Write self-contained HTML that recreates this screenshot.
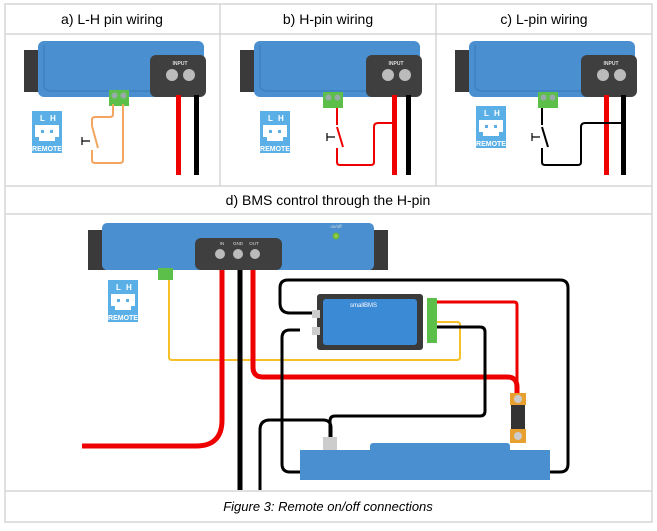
<!DOCTYPE html>
<html><head><meta charset="utf-8"><style>
html,body{margin:0;padding:0;background:#fff}
svg{display:block}
text{font-family:"Liberation Sans",Arial,sans-serif}
</style></head><body>
<svg width="657" height="531" viewBox="0 0 657 531" xmlns="http://www.w3.org/2000/svg">
<defs>
<g id="remote">
<rect x="0" y="0" width="30" height="42" fill="#5ab0e6"/>
<text x="8" y="10" font-size="8" font-weight="bold" fill="#fff">L</text>
<text x="18" y="10" font-size="8" font-weight="bold" fill="#fff">H</text>
<path d="M3 14 h24 v12 h-4 v4 h-16 v-4 h-4z" fill="#fff"/>
<rect x="9" y="19" width="3" height="3" fill="#5ab0e6"/><rect x="18" y="19" width="3" height="3" fill="#5ab0e6"/>
<text x="15" y="40" font-size="7" font-weight="bold" fill="#fff" text-anchor="middle">REMOTE</text>
</g>
<g id="conn">
<rect x="0" y="0" width="20" height="16" fill="#5cbf4a"/>
<circle cx="5.5" cy="5.5" r="3" fill="#9aa"/><circle cx="14.5" cy="5.5" r="3" fill="#9aa"/>
</g>
<g id="top">
<rect x="0" y="9" width="20" height="42" fill="#3a3a3a"/>
<rect x="14" y="0" width="166" height="56" rx="6" fill="#4a90d0"/>
<path d="M20 4 v40 q0 6 8 6 h100" stroke="#3d80c0" fill="none" stroke-width="1.5"/>
<rect x="126" y="14" width="56" height="42" rx="6" fill="#3f3f3f"/>
<text x="156" y="24" font-size="5" fill="#ddd" text-anchor="middle" font-weight="bold">INPUT</text>
<circle cx="148" cy="34" r="6" fill="#bbb"/><circle cx="165" cy="34" r="6" fill="#bbb"/>
</g>
</defs>
<!-- table grid -->
<g stroke="#d6d6d6" stroke-width="1.5" fill="none">
<rect x="5" y="4" width="647" height="518"/>
<line x1="5" y1="34" x2="652" y2="34"/>
<line x1="5" y1="186" x2="652" y2="186"/>
<line x1="5" y1="214" x2="652" y2="214"/>
<line x1="5" y1="491" x2="652" y2="491"/>
<line x1="220" y1="4" x2="220" y2="186"/>
<line x1="436" y1="4" x2="436" y2="186"/>
</g>
<text x="112" y="24" font-size="14" text-anchor="middle">a) L-H pin wiring</text>
<text x="328" y="24" font-size="14" text-anchor="middle">b) H-pin wiring</text>
<text x="544" y="24" font-size="14" text-anchor="middle">c) L-pin wiring</text>
<text x="328" y="205" font-size="14" text-anchor="middle">d) BMS control through the H-pin</text>
<text x="328" y="511" font-size="13" font-style="italic" text-anchor="middle">Figure 3: Remote on/off connections</text>

<!-- panel a -->
<use href="#top" x="24" y="41"/>
<rect x="176" y="95" width="5" height="80" fill="#e00"/><rect x="194" y="95" width="5" height="80" fill="#000"/>
<use href="#conn" x="109" y="90"/>
<use href="#remote" x="32" y="111"/>
<path d="M113 104 v10 q0 3 -3 3 h-15 q-3 0 -3 3 v6 M92 126 l6 22 M92 150 v10 q0 3 3 3 h25 q3 0 3 -3 v-56" stroke="#f4a560" stroke-width="2" fill="none"/>
<path d="M82 141 h8 M82 137 v8" stroke="#000" stroke-width="1.2"/>

<!-- panel b -->
<use href="#top" x="240" y="41"/>
<rect x="392" y="95" width="5" height="80" fill="#e00"/><rect x="406" y="95" width="5" height="80" fill="#000"/>
<use href="#conn" x="323" y="92"/>
<use href="#remote" x="260" y="111"/>
<path d="M337 108 v17 M337 127 l6 20 M337 148 v14 q0 3 3 3 h31 q3 0 3 -3 v-35 q0 -4 4 -4 h15" stroke="#e00" stroke-width="2" fill="none"/>
<path d="M327 137 h8 M327 133 v8" stroke="#000" stroke-width="1.2"/>

<!-- panel c -->
<use href="#top" x="455" y="41"/>
<rect x="604" y="95" width="5" height="80" fill="#e00"/><rect x="621" y="95" width="5" height="80" fill="#000"/>
<use href="#conn" x="538" y="92"/>
<use href="#remote" x="476" y="106"/>
<path d="M542 108 v17 M542 127 l6 20 M542 148 v14 q0 3 3 3 h33 q3 0 3 -3 v-35 q0 -4 4 -4 h39" stroke="#000" stroke-width="2" fill="none"/>
<path d="M532 137 h8 M532 133 v8" stroke="#000" stroke-width="1.2"/>

<!-- panel d -->
<rect x="88" y="230" width="18" height="40" fill="#3a3a3a"/>
<rect x="370" y="230" width="18" height="40" fill="#3a3a3a"/>
<rect x="102" y="223" width="272" height="47" rx="5" fill="#4a90d0"/>
<rect x="195" y="238" width="87" height="32" rx="6" fill="#3f3f3f"/>
<text x="222" y="245" font-size="4.5" fill="#ddd" text-anchor="middle">IN</text>
<text x="238" y="245" font-size="4.5" fill="#ddd" text-anchor="middle">GND</text>
<text x="254" y="245" font-size="4.5" fill="#ddd" text-anchor="middle">OUT</text>
<circle cx="220" cy="254" r="5" fill="#bbb"/><circle cx="238" cy="254" r="5" fill="#bbb"/><circle cx="255" cy="254" r="5" fill="#bbb"/>
<circle cx="336" cy="236" r="3" fill="#8c4" stroke="#6a3"/>
<text x="336" y="228" font-size="4.5" fill="#ddd" text-anchor="middle">on/off</text>
<use href="#conn" x="158" y="268" transform="translate(79 134) scale(0.5)"/>
<rect x="158" y="268" width="15" height="12" fill="#5cbf4a"/>
<use href="#remote" x="108" y="280" transform=""/>
<!-- wires -->
<path d="M169 280 v77 q0 3 3 3 h285 q3 0 3 -3 v-32 q0 -3 -3 -3 h-20" stroke="#f5c02a" stroke-width="2" fill="none"/>
<path d="M222 270 v150 q0 26 -26 26 h-114" stroke="#e00" stroke-width="5" fill="none"/>
<rect x="237.5" y="270" width="5" height="220" fill="#000"/>
<path d="M253 270 v97 q0 10 10 10 h244 q10 0 10 10 v8" stroke="#e00" stroke-width="5" fill="none"/>
<path d="M437 302 h77 q3 0 3 3 v85" stroke="#e00" stroke-width="3" fill="none"/>
<g stroke="#000" stroke-width="3" fill="none">
<path d="M312 313 h-22 q-10 0 -10 -10 v-15 q0 -8 8 -8 h272 q8 0 8 8 v176 q0 8 -8 8 h-10"/>
<path d="M300 330 h-10 q-8 0 -8 8 v126 q0 8 8 8 h12"/>
<path d="M437 327 h43 q5 0 5 5 v79 q0 5 -5 5 h-145 q-5 0 -5 5 v20"/>
<path d="M260 490 v-60 q0 -10 10 -10 h53 q8 0 8 8 v12"/>
</g>
<!-- BMS -->
<rect x="317" y="294" width="106" height="56" rx="3" fill="#3a3a3a"/>
<rect x="323" y="299" width="94" height="46" rx="3" fill="#3b8ad6"/>
<text x="350" y="307" font-size="6" fill="#fff">smallBMS</text>
<rect x="427" y="298" width="10" height="45" fill="#5cbf4a"/>
<rect x="312" y="310" width="8" height="8" fill="#ccc"/><rect x="312" y="327" width="8" height="8" fill="#ccc"/>
<!-- fuse -->
<rect x="510" y="393" width="16" height="12" fill="#e8a030"/>
<rect x="511" y="405" width="14" height="24" fill="#333"/>
<rect x="510" y="429" width="16" height="14" fill="#e8a030"/>
<circle cx="518" cy="399" r="4" fill="#ccc"/><circle cx="518" cy="436" r="4" fill="#ccc"/>
<!-- battery -->
<rect x="300" y="450" width="250" height="30" fill="#4a90d0"/>
<rect x="370" y="443" width="140" height="10" rx="3" fill="#4a90d0"/>
<rect x="323" y="437" width="14" height="13" fill="#ccc"/>
</svg>
</body></html>
